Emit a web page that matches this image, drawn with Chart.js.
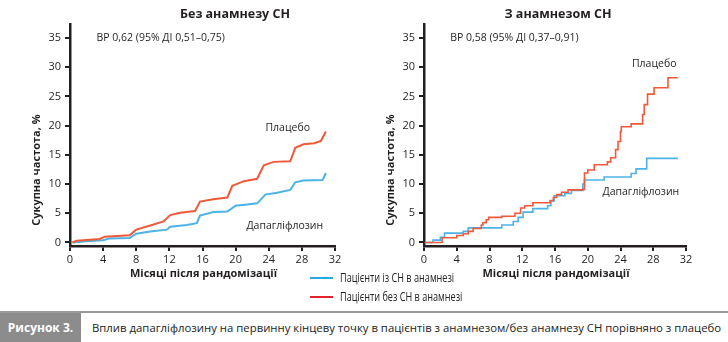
<!DOCTYPE html>
<html lang="uk">
<head>
  <meta charset="UTF-8">
  <title>Вплив дапагліфлозину на первинну кінцеву точку</title>
  <script src="https://cdn.jsdelivr.net/npm/chart.js"></script>
  <style>
    body { margin: 0; background: #fff; font-family: "Open Sans", sans-serif; }
    #page { position: relative; width: 728px; height: 342px; overflow: hidden; }
    .panel { position: absolute; top: 0; width: 364px; height: 290px; }
    #legend { position: absolute; left: 310px; top: 268px; font-size: 12px; color: #222; }
    #legend div { height: 19px; line-height: 19px; white-space: nowrap; }
    #legend span { display: inline-block; width: 23px; height: 2px; vertical-align: middle; margin-right: 7px; margin-top: -2px; }
    #legend b { display: inline-block; font-weight: normal; transform: scaleX(0.76); transform-origin: left center; }
    #caption { position: absolute; left: 0; top: 311px; width: 728px; height: 31px; border-top: 2px solid #9a9a9a; box-sizing: border-box; }
    #caption .tag { position: absolute; left: 0; top: 0; width: 81px; height: 29px; background: #8c8c8c; color: #fff; font-weight: bold; font-size: 12px; line-height: 29px; text-align: center; }
    #caption .txt { position: absolute; left: 92px; top: 0; line-height: 29px; font-size: 11.35px; color: #222; white-space: nowrap; }
  </style>
</head>
<body>
<div id="page">
  <div class="panel" style="left:0"><canvas id="left" width="364" height="290"></canvas></div>
  <div class="panel" style="left:364px"><canvas id="right" width="364" height="290"></canvas></div>
  <div id="legend">
    <div><span style="background:#2aa8e2"></span><b>Пацієнти із СН в анамнезі</b></div>
    <div><span style="background:#e4222b"></span><b>Пацієнти без СН в анамнезі</b></div>
  </div>
  <div id="caption">
    <div class="tag">Рисунок 3.</div>
    <div class="txt">Вплив дапагліфлозину на первинну кінцеву точку в пацієнтів з анамнезом/без анамнезу СН порівняно з плацебо</div>
  </div>
</div>

<script>
  // axis ticks
  const monthTicks = [0, 4, 8, 12, 16, 20, 24, 28, 32];
  const rateTicks = [0, 5, 10, 15, 20, 25, 30, 35];

  // без анамнезу СН: [місяць, %]
  const noHfPlacebo = [[0.3, 0], [0.8, 0.3], [3.6, 0.6], [4.2, 1.0], [7.2, 1.25], [8.0, 2.2], [9.7, 2.9],
    [11.3, 3.6], [12.1, 4.7], [13.3, 5.1], [15.1, 5.4], [15.7, 7.0], [17.3, 7.4], [19.0, 7.7], [19.6, 9.7],
    [21.0, 10.5], [22.6, 10.9], [23.4, 13.2], [24.6, 13.8], [26.6, 13.9], [27.2, 16.2], [28.2, 16.8],
    [29.5, 17.0], [30.3, 17.4], [30.6, 18.2], [30.9, 19.0]];
  const noHfDapa = [[0.3, 0], [2.0, 0.2], [4.0, 0.4], [4.8, 0.7], [7.2, 0.75], [8.0, 1.5], [9.7, 1.9],
    [11.7, 2.2], [12.1, 2.7], [14.1, 3.0], [15.3, 3.3], [15.7, 4.6], [17.3, 5.2], [19.0, 5.3], [20.0, 6.3],
    [21.4, 6.5], [22.6, 6.7], [23.6, 8.2], [25.0, 8.5], [26.6, 9.0], [27.2, 10.3], [28.2, 10.6],
    [30.5, 10.7], [30.9, 11.9]];

  // з анамнезом СН: [місяць, %]
  const hfPlacebo = [[0.1, 0], [2.2, 0.8], [4.0, 1.2], [4.8, 1.5], [5.4, 1.9], [6.0, 2.4], [7.0, 3.0],
    [7.2, 3.4], [7.6, 3.9], [7.9, 4.3], [9.5, 4.5], [11.1, 5.0], [11.8, 5.9], [12.3, 6.3], [13.3, 6.8],
    [15.4, 7.2], [15.8, 7.7], [16.2, 8.2], [16.8, 8.6], [17.6, 9.0], [19.4, 9.1], [19.6, 11.9], [20.0, 12.4],
    [20.8, 13.3], [22.4, 13.8], [22.8, 14.5], [23.4, 15.9], [23.7, 17.3], [24.0, 19.0], [24.1, 19.8],
    [25.3, 20.3], [26.7, 21.9], [26.9, 23.6], [27.3, 25.4], [28.1, 26.5], [29.8, 28.2], [31.0, 28.2]];
  const hfDapa = [[0.1, 0], [1.1, 0.4], [2.0, 0.9], [2.5, 1.6], [4.8, 1.9], [5.4, 2.5], [9.5, 3.0],
    [10.9, 3.6], [11.5, 4.3], [12.1, 5.2], [13.3, 5.8], [15.1, 6.3], [15.5, 7.1], [15.9, 8.0], [17.2, 8.4],
    [18.0, 8.9], [19.4, 10.0], [19.6, 10.7], [22.0, 11.2], [25.3, 11.8], [25.9, 12.6], [27.2, 14.4],
    [31.0, 14.4]];

  const RED = '#ee5a3a';
  const BLUE = '#4db2e6';
  const INK = '#231f20';
  const FONT = '"Open Sans", sans-serif';

  const toXY = arr => arr.map(([x, y]) => ({ x, y }));

  // panel texts: title, axis titles and labels tied to data coordinates
  const textPlugin = {
    id: 'panelText',
    afterDraw(chart, args, o) {
      const { ctx, scales: { x, y } } = chart;
      ctx.save();
      ctx.fillStyle = INK;
      ctx.textBaseline = 'middle';

      ctx.font = 'bold 12.5px ' + FONT;
      ctx.textAlign = 'center';
      ctx.fillText(o.title, o.titleX, 14);

      ctx.font = 'bold 11px ' + FONT;
      ctx.fillText('Місяці після рандомізації', (x.left + x.right) / 2 + 1, 274);

      ctx.save();
      ctx.translate(o.yTitleX, 170);
      ctx.rotate(-Math.PI / 2);
      ctx.fillText('Сукупна частота, %', 0, 0);
      ctx.restore();

      ctx.font = '10.5px ' + FONT;
      ctx.textAlign = 'left';
      for (const [txt, mx, my] of o.labels) {
        ctx.fillText(txt, x.getPixelForValue(mx), y.getPixelForValue(my));
      }
      ctx.restore();
    }
  };

  function makeChart(id, placebo, dapa, stepped, opts) {
    const axisGrid = { display: true, drawOnChartArea: false, drawTicks: true, tickLength: 5, color: INK, lineWidth: 2 };
    return new Chart(document.getElementById(id), {
      type: 'line',
      data: {
        datasets: [
          { label: 'Плацебо', data: toXY(placebo), borderColor: RED, borderWidth: opts.lineWidth, stepped, tension: 0 },
          { label: 'Дапагліфлозин', data: toXY(dapa), borderColor: BLUE, borderWidth: opts.lineWidth, stepped, tension: 0 }
        ]
      },
      options: {
        responsive: false,
        animation: false,
        events: [],
        elements: { point: { radius: 0 } },
        layout: { padding: { left: 0, top: 24, right: opts.padRight, bottom: 0 } },
        plugins: {
          legend: { display: false },
          tooltip: { enabled: false },
          panelText: opts.text
        },
        scales: {
          x: {
            type: 'linear',
            min: 0,
            max: 32,
            afterFit: s => { s.height = 44; },
            afterBuildTicks: s => { s.ticks = monthTicks.map(v => ({ value: v })); },
            grid: axisGrid,
            border: { display: true, color: INK, width: 2.5 },
            ticks: { color: INK, font: { family: FONT, size: 11 }, padding: 2, maxRotation: 0 }
          },
          y: {
            min: -0.6,
            max: 37.4,
            afterFit: s => { s.width = opts.axisLeft; },
            afterBuildTicks: s => { s.ticks = rateTicks.map(v => ({ value: v })); },
            grid: axisGrid,
            border: { display: true, color: INK, width: 2.5 },
            ticks: { color: INK, font: { family: FONT, size: 11 }, padding: 4 }
          }
        }
      },
      plugins: [textPlugin]
    });
  }

  makeChart('left', noHfPlacebo, noHfDapa, false, {
    padRight: 29,
    axisLeft: 70,
    lineWidth: 2,
    text: {
      title: 'Без анамнезу СН',
      titleX: 235,
      yTitleX: 37,
      labels: [
        ['ВР 0,62 (95% ДІ 0,51–0,75)', 3.2, 35],
        ['Плацебо', 23.6, 19.6],
        ['Дапагліфлозин', 21.3, 2.9]
      ]
    }
  });

  makeChart('right', hfPlacebo, hfDapa, 'before', {
    padRight: 42,
    axisLeft: 60,
    lineWidth: 1.6,
    text: {
      title: 'З анамнезом СН',
      titleX: 194,
      yTitleX: 27,
      labels: [
        ['ВР 0,58 (95% ДІ 0,37–0,91)', 3.2, 35],
        ['Плацебо', 25.4, 30.5],
        ['Дапагліфлозин', 21.8, 8.7]
      ]
    }
  });
</script>
</body>
</html>
